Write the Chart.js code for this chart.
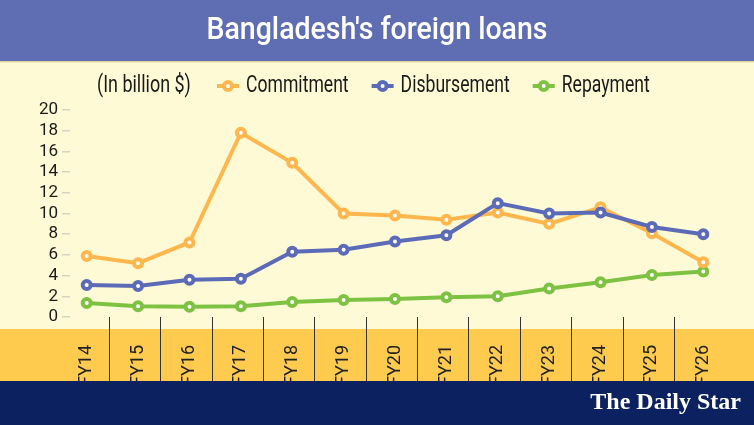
<!DOCTYPE html>
<html>
<head>
<meta charset="utf-8">
<script src="https://cdn.jsdelivr.net/npm/chart.js@4"></script>
<style>
  body { margin:0; overflow:hidden; background:#fffad6; }
</style>
</head>
<body>
<canvas id="loanChart" width="754" height="425"></canvas>
<script>
// DATA (billion US$)
const years = ['FY14','FY15','FY16','FY17','FY18','FY19','FY20','FY21','FY22','FY23','FY24','FY25','FY26'];
const commitment   = [5.9, 5.2, 7.2, 17.8, 14.9, 10.0, 9.8, 9.4, 10.1, 9.0, 10.6, 8.1, 5.3];
const disbursement = [3.1, 3.0, 3.6, 3.7, 6.3, 6.5, 7.3, 7.9, 11.0, 10.0, 10.1, 8.7, 8.0];
const repayment    = [1.35, 1.05, 1.0, 1.05, 1.45, 1.65, 1.75, 1.9, 2.0, 2.75, 3.35, 4.05, 4.4];
const yTicks = [0, 2, 4, 6, 8, 10, 12, 14, 16, 18, 20];

const FONT = 'Roboto, "Noto Sans", sans-serif';
const toPoints = arr => arr.map((v, i) => ({x: i, y: v}));

function series(label, values, color, order){
  return {
    label: label,
    data: toPoints(values),
    borderColor: color,
    backgroundColor: '#fff',
    borderWidth: 4,
    pointRadius: 4,
    pointBorderWidth: 4,
    pointBackgroundColor: '#fff',
    pointBorderColor: color,
    tension: 0,
    order: order
  };
}

// text squeezed sideways, to get near the narrow face of the original
function narrowText(c, text, x, y, sx){
  c.save();
  c.translate(x, y);
  c.scale(sx, 1);
  c.fillText(text, 0, 0);
  c.restore();
  return c.measureText(text).width * sx;
}

// backgrounds, title, legend, footer
const decor = {
  id: 'decor',
  beforeDraw(chart){
    const c = chart.ctx;
    c.save();
    c.fillStyle = '#fffad6'; c.fillRect(0, 0, 754, 425);
    c.fillStyle = '#5f6db3'; c.fillRect(0, 0, 754, 61);
    c.fillStyle = '#dcd0a6'; c.fillRect(0, 61, 754, 1.5);
    c.fillStyle = '#ffcb4f'; c.fillRect(0, 329, 754, 52);
    c.restore();
  },
  beforeDatasetsDraw(chart){
    // divider lines between years
    const c = chart.ctx, xs = chart.scales.x;
    c.save();
    c.strokeStyle = '#333';
    c.lineWidth = 1;
    for (let i = 0; i < years.length - 1; i++) {
      const x = Math.round(xs.getPixelForValue(i + 0.43)) + 0.5;
      c.beginPath();
      c.moveTo(x, chart.chartArea.bottom);
      c.lineTo(x, 381);
      c.stroke();
    }
    c.restore();
  },
  afterDraw(chart){
    const c = chart.ctx;
    c.save();
    // footer
    c.fillStyle = '#0c2160'; c.fillRect(0, 381, 754, 44);
    c.fillStyle = '#fff';
    c.font = 'bold 24px "Liberation Serif", serif';
    c.textAlign = 'right'; c.textBaseline = 'middle';
    c.fillText('The Daily Star', 741, 403);
    // title
    c.font = '500 31px ' + FONT;
    c.textAlign = 'center';
    narrowText(c, "Bangladesh's foreign loans", 377, 31, 0.92);
    // legend
    const y = 86;
    c.font = '23px ' + FONT;
    c.fillStyle = '#1a1a1a';
    c.textAlign = 'left';
    narrowText(c, '(In billion $)', 97, y, 0.78);
    let x = 217;
    chart.data.datasets.forEach(ds => {
      c.strokeStyle = ds.borderColor;
      c.lineWidth = 4;
      c.beginPath(); c.moveTo(x, y); c.lineTo(x + 22, y); c.stroke();
      c.beginPath(); c.arc(x + 11, y, 4, 0, Math.PI * 2);
      c.fillStyle = '#fff'; c.fill(); c.stroke();
      c.fillStyle = '#1a1a1a';
      const w = narrowText(c, ds.label, x + 29, y, 0.765);
      x += 29 + w + 23;
    });
    c.restore();
  }
};

new Chart(document.getElementById('loanChart').getContext('2d'), {
  type: 'line',
  data: {
    datasets: [
      series('Commitment', commitment, '#ffb74d', 1),
      series('Disbursement', disbursement, '#5c6bb8', 0),
      series('Repayment', repayment, '#7dc242', 2)
    ]
  },
  options: {
    responsive: false,
    devicePixelRatio: 1,
    animation: false,
    layout: { padding: { top: 110, right: 25, left: 0, bottom: 0 } },
    plugins: { legend: { display: false }, tooltip: { enabled: false } },
    scales: {
      x: {
        type: 'linear',
        min: -0.325,
        max: 12.5,
        afterFit: s => { s.height = 108; },
        grid: { display: false, drawTicks: false },
        border: { display: false },
        ticks: {
          stepSize: 1,
          includeBounds: false,
          autoSkip: false,
          minRotation: 90,
          maxRotation: 90,
          padding: 28,
          color: '#222',
          font: { family: FONT, size: 18 },
          callback: v => Number.isInteger(v) && years[v] ? years[v] : ''
        }
      },
      y: {
        min: 0,
        max: 20,
        afterFit: s => { s.width = 70; },
        afterBuildTicks: s => { s.ticks = yTicks.map(v => ({value: v})); },
        grid: { drawOnChartArea: false, tickLength: 8, color: '#d6d3c2', lineWidth: 1.5 },
        border: { display: false },
        ticks: {
          autoSkip: false,
          padding: 4,
          color: '#1a1a1a',
          font: { family: FONT, size: 17 }
        }
      }
    }
  },
  plugins: [decor]
});
</script>
</body>
</html>
